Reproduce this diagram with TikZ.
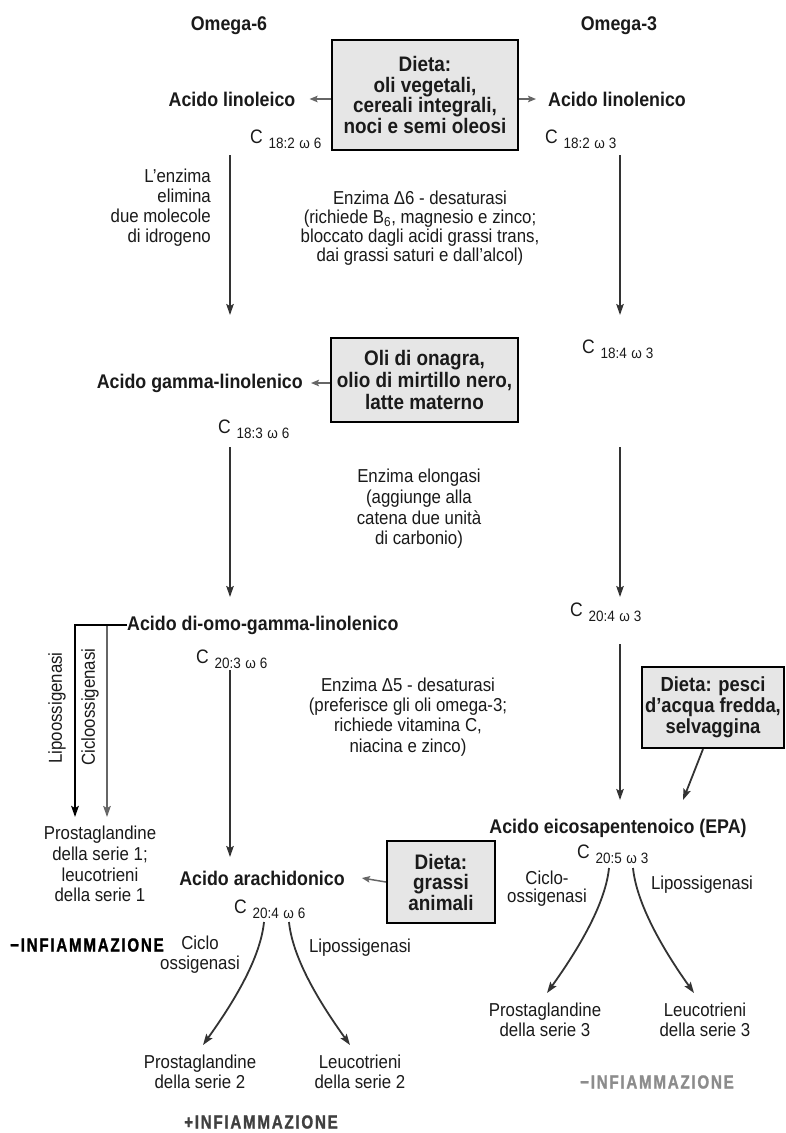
\documentclass[tikz,border=0pt]{standalone}
\usepackage{fontspec}
\setmainfont{Liberation Sans}[FakeStretch=0.9]
\newfontfamily\infont[FakeStretch=0.8,LetterSpace=9,FakeBold=1.2]{Liberation Sans}
\usetikzlibrary{arrows.meta}
\definecolor{boxgray}{HTML}{E6E6E6}
\definecolor{arrowdark}{HTML}{333333}
\definecolor{arrowgray}{HTML}{666666}
\definecolor{txtblack}{HTML}{1A1A1A}
\newcommand\Clab[2]{C\hspace{0.3em}\raisebox{-0.3em}{\fontsize{15}{15}\selectfont #1\hspace{0.3em}ω\hspace{0.25em}#2}}
\tikzset{
  lbl/.style={font=\fontsize{19.8}{21}\selectfont\bfseries, inner sep=0pt, text=txtblack},
  txt/.style={font=\fontsize{18.7}{20}\selectfont, inner sep=0pt, align=center, text=txtblack},
  clab/.style={font=\fontsize{19.5}{20}\selectfont, inner sep=0pt, anchor=base west, text=txtblack},
  boxnode/.style={draw=black, line width=2.2pt, fill=boxgray, font=\fontsize{21}{20.5}\selectfont\bfseries, align=center, inner sep=0pt, text=txtblack},
  varrow/.style={draw=arrowdark, line width=1.8pt, -{Stealth[length=11pt,width=7.5pt,inset=2pt]}},
  harrow/.style={draw=arrowgray, line width=1.5pt, -{Stealth[length=8pt,width=6.5pt,inset=1.5pt]}},
  blkarrow/.style={draw=black, line width=2pt, -{Stealth[length=11pt,width=7.5pt,inset=2pt]}},
  gryarrow/.style={draw=arrowgray, line width=1.8pt, -{Stealth[length=11pt,width=7.5pt,inset=2pt]}},
  infl/.style={font=\infont\bfseries\fontsize{19}{20}\selectfont, inner sep=0pt}
}
\begin{document}
\begin{tikzpicture}[x=1pt,y=-1pt]
\useasboundingbox (0,0) rectangle (785,1133);
\fill[white] (0,0) rectangle (785,1133);

% headers
\node[lbl] (om6) at (229,26) {Omega-6};
\node[lbl] (om3) at (619,26) {Omega-3};

% row 1
\node[boxnode, minimum width=186pt, minimum height=110pt] (box1) at (425,95)
  {Dieta:\\oli vegetali,\\cereali integrali,\\noci e semi oleosi};
\node[lbl] (lino) at (232,99) {Acido linoleico};
\node[lbl] (linol) at (617,99) {Acido linolenico};
\draw[harrow] (box1.west |- lino.east) -- ([xshift=14pt]lino.east);
\draw[harrow] (box1.east |- linol.west) -- ([xshift=-12pt]linol.west);
\node[clab] (c1) at (250,143) {\Clab{18:2}{6}};
\node[clab] (c2) at (545,143) {\Clab{18:2}{3}};

\coordinate (a1s) at (230,155); \coordinate (a1e) at (230,315);
\coordinate (b1s) at (620,155); \coordinate (b1e) at (620,315);
\draw[varrow] (a1s) -- (a1e);
\draw[varrow] (b1s) -- (b1e);

\node[txt, align=right, anchor=east] (enz1) at (211,208)
  {L’enzima\\elimina\\due molecole\\di idrogeno};
\node[txt, font=\fontsize{18.7}{19}\selectfont] (d6) at (420,228)
  {Enzima Δ6 - desaturasi\\(richiede B\textsubscript{6}, magnesio e zinco;\\bloccato dagli acidi grassi trans,\\dai grassi saturi e dall'alcol)};

% row 2
\node[boxnode, minimum width=187pt, minimum height=84pt] (box2) at (424.5,380)
  {Oli di onagra,\\[1.5pt]olio di mirtillo nero,\\[1.5pt]latte materno};
\node[lbl, anchor=east] (gam) at (303,383) {Acido gamma-linolenico};
\draw[harrow] (box2.west |- gam.east) -- ([xshift=8pt]gam.east);
\node[clab] (c3) at (582,353) {\Clab{18:4}{3}};
\node[clab] (c4) at (218,433) {\Clab{18:3}{6}};

\coordinate (a2s) at (230,447); \coordinate (a2e) at (230,597);
\coordinate (b2s) at (620,447); \coordinate (b2e) at (620,597);
\draw[varrow] (a2s) -- (a2e);
\draw[varrow] (b2s) -- (b2e);

\node[txt, font=\fontsize{18.7}{20.7}\selectfont] (elo) at (419,509)
  {Enzima elongasi\\(aggiunge alla\\catena due unità\\di carbonio)};

% row 3
\node[clab] (c5) at (570,616) {\Clab{20:4}{3}};
\node[lbl, anchor=west] (diomo) at (127,625) {Acido di-omo-gamma-linolenico};
\node[clab] (c6) at (196,663) {\Clab{20:3}{6}};

\coordinate (lipoend) at (75,817);
\coordinate (cicloend) at (107,817);
\draw[gryarrow] (diomo.west -| cicloend) -- (cicloend);
\draw[blkarrow] (diomo.west) -| (lipoend);
\node[txt, rotate=90] (lipotxt) at (57,708) {Lipoossigenasi};
\node[txt, rotate=90] (ciclotxt) at (90,707) {Cicloossigenasi};

\node[txt, font=\fontsize{18.7}{20.3}\selectfont] (d5) at (408,717)
  {Enzima Δ5 - desaturasi\\(preferisce gli oli omega-3;\\richiede vitamina C,\\niacina e zinco)};

\coordinate (a3s) at (230,670); \coordinate (a3e) at (230,857);
\coordinate (b3s) at (620,644); \coordinate (b3e) at (620,800);
\draw[varrow] (a3s) -- (a3e);
\draw[varrow] (b3s) -- (b3e);

\node[boxnode, font=\fontsize{20.4}{21}\selectfont\bfseries, minimum width=142pt, minimum height=81pt] (box3) at (713,707.5)
  {Dieta: pesci\\d’acqua fredda,\\selvaggina};
\coordinate (pesciend) at (683,800);
\draw[varrow] ([xshift=-10pt]box3.south) -- (pesciend);

% EPA
\node[lbl] (epa) at (618,828) {Acido eicosapentenoico (EPA)};
\node[clab] (c7) at (577,858) {\Clab{20:5}{3}};
\node[txt, font=\fontsize{18.7}{18}\selectfont] (cic3) at (547,889) {Ciclo-\\ossigenasi};
\node[txt] (lip3) at (702,885) {Lipossigenasi};
\coordinate (e1s) at (609,868); \coordinate (e1e) at (547,993);
\coordinate (e2s) at (633,868); \coordinate (e2e) at (694,993);
\draw[varrow] (e1s) .. controls (605,908) and (572,958) .. (e1e);
\draw[varrow] (e2s) .. controls (637,908) and (669,958) .. (e2e);
\node[txt] (pg3) at (545,1020) {Prostaglandine\\della serie 3};
\node[txt] (lt3) at (705,1020) {Leucotrieni\\della serie 3};
\node[infl, text=black!45] (inf3) at (657,1082) {−INFIAMMAZIONE};

% series 1
\node[txt, font=\fontsize{18.7}{20.7}\selectfont] (pg1) at (100,864)
  {Prostaglandine\\della serie 1;\\leucotrieni\\della serie 1};

% arachidonico
\node[lbl] (arach) at (262,878) {Acido arachidonico};
\node[boxnode, minimum width=108pt, minimum height=82pt] (box4) at (441,882)
  {Dieta:\\grassi\\animali};
\draw[harrow] (box4.west) -- ([xshift=17pt]arach.east);
\node[clab] (c8) at (234,913) {\Clab{20:4}{6}};

\node[infl, anchor=west, text=black] (inf1) at (10,945) {−INFIAMMAZIONE};
\node[txt] (cic2) at (200,955) {Ciclo\\ossigenasi};
\node[txt] (lip2) at (360,948) {Lipossigenasi};
\coordinate (f1s) at (264,922); \coordinate (f1e) at (203,1045);
\coordinate (f2s) at (289,922); \coordinate (f2e) at (350,1045);
\draw[varrow] (f1s) .. controls (260,962) and (228,1010) .. (f1e);
\draw[varrow] (f2s) .. controls (293,962) and (325,1010) .. (f2e);
\node[txt] (pg2) at (200,1072) {Prostaglandine\\della serie 2};
\node[txt] (lt2) at (360,1072) {Leucotrieni\\della serie 2};
\node[infl, text=black!75] (inf2) at (261,1122) {+INFIAMMAZIONE};
\end{tikzpicture}
\end{document}
